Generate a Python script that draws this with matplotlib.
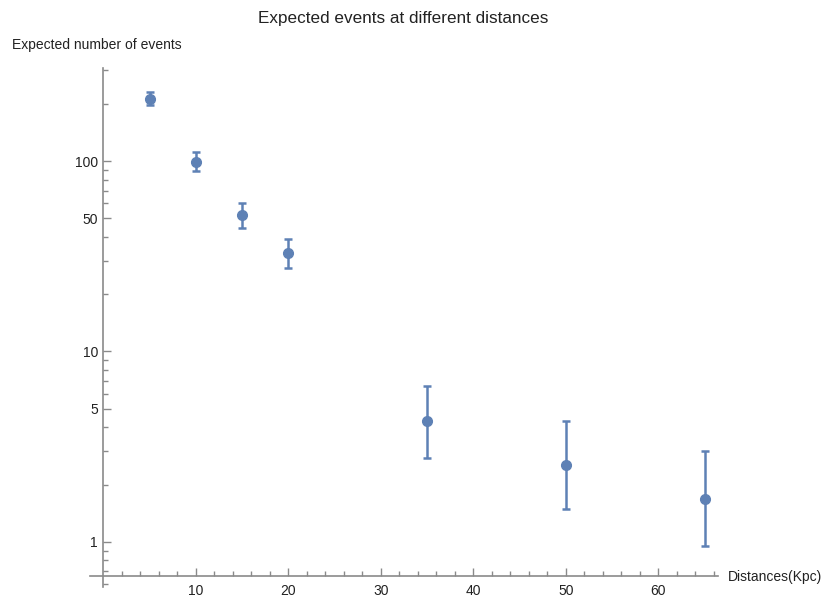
import matplotlib
matplotlib.use("Agg")
import matplotlib.pyplot as plt
import numpy as np
from matplotlib.ticker import FixedLocator, NullFormatter, FixedFormatter

plt.rcParams['font.family'] = ['Liberation Sans', 'DejaVu Sans']

# Data
distances = [5, 10, 15, 20, 35, 50, 65]
expected = [211, 99, 52, 33, 4.3, 2.54, 1.68]
upper = [231, 111, 60, 38.8, 6.6, 4.33, 2.99]
lower = [196, 89, 44.7, 27.5, 2.75, 1.49, 0.957]

title = "Expected events at different distances"
ylabel = "Expected number of events"
xlabel = "Distances(Kpc)"
x_major = [10, 20, 30, 40, 50, 60]
x_minor = [2, 4, 6, 8, 12, 14, 16, 18, 22, 24, 26, 28, 32, 34, 36, 38,
           42, 44, 46, 48, 52, 54, 56, 58, 62, 64, 66]
y_major = [1, 5, 10, 50, 100]
y_major_labels = ["1", "5", "10", "50", "100"]
y_minor = [0.6, 0.7, 0.8, 0.9, 2, 3, 4, 6, 7, 8, 9, 20, 30, 40, 60, 70, 80, 90, 200, 300]

color = "#5E81B5"
axis_color = "#8a8a8a"

fig = plt.figure(figsize=(8.39, 5.97), dpi=100)
ax = fig.add_axes([90/839, 1-587/597, (718-90)/839, (587-68)/597])
ax.set_yscale('log')
ax.set_xlim(-1.46, 66.46)
ax.set_ylim(0.58, 308)

y = np.array(expected)
yerr = np.vstack([y - np.array(lower), np.array(upper) - y])
ax.errorbar(distances, expected, yerr=yerr, fmt='o', color=color, ms=7,
            elinewidth=1.8, capsize=3, capthick=1.8, zorder=3)

for s in ['top', 'right']:
    ax.spines[s].set_visible(False)
ax.spines['left'].set_position(('data', 0))
ax.spines['bottom'].set_position(('data', 0.663))
for s in ['left', 'bottom']:
    ax.spines[s].set_color(axis_color)
    ax.spines[s].set_linewidth(1.2)

ax.xaxis.set_major_locator(FixedLocator(x_major))
ax.xaxis.set_minor_locator(FixedLocator(x_minor))
ax.yaxis.set_major_locator(FixedLocator(y_major))
ax.yaxis.set_major_formatter(FixedFormatter(y_major_labels))
ax.yaxis.set_minor_locator(FixedLocator(y_minor))
ax.yaxis.set_minor_formatter(NullFormatter())

ax.tick_params(axis='both', which='major', direction='in', length=6, width=1,
               color=axis_color, labelsize=10, labelcolor='#222222')
ax.tick_params(axis='both', which='minor', direction='in', length=3.5, width=1,
               color=axis_color)
ax.tick_params(axis='x', which='major', pad=5.5)
ax.tick_params(axis='y', which='major', pad=4)

fig.text(403/839, 1-18/597, title, ha='center', va='center', fontsize=12.3, color='#222222')
fig.text(12/839, 1-45/597, ylabel, ha='left', va='center', fontsize=10, color='#222222')
fig.text(728/839, 1-577/597, xlabel, ha='left', va='center', fontsize=10, color='#222222')

fig.savefig("out.png", dpi=100)
